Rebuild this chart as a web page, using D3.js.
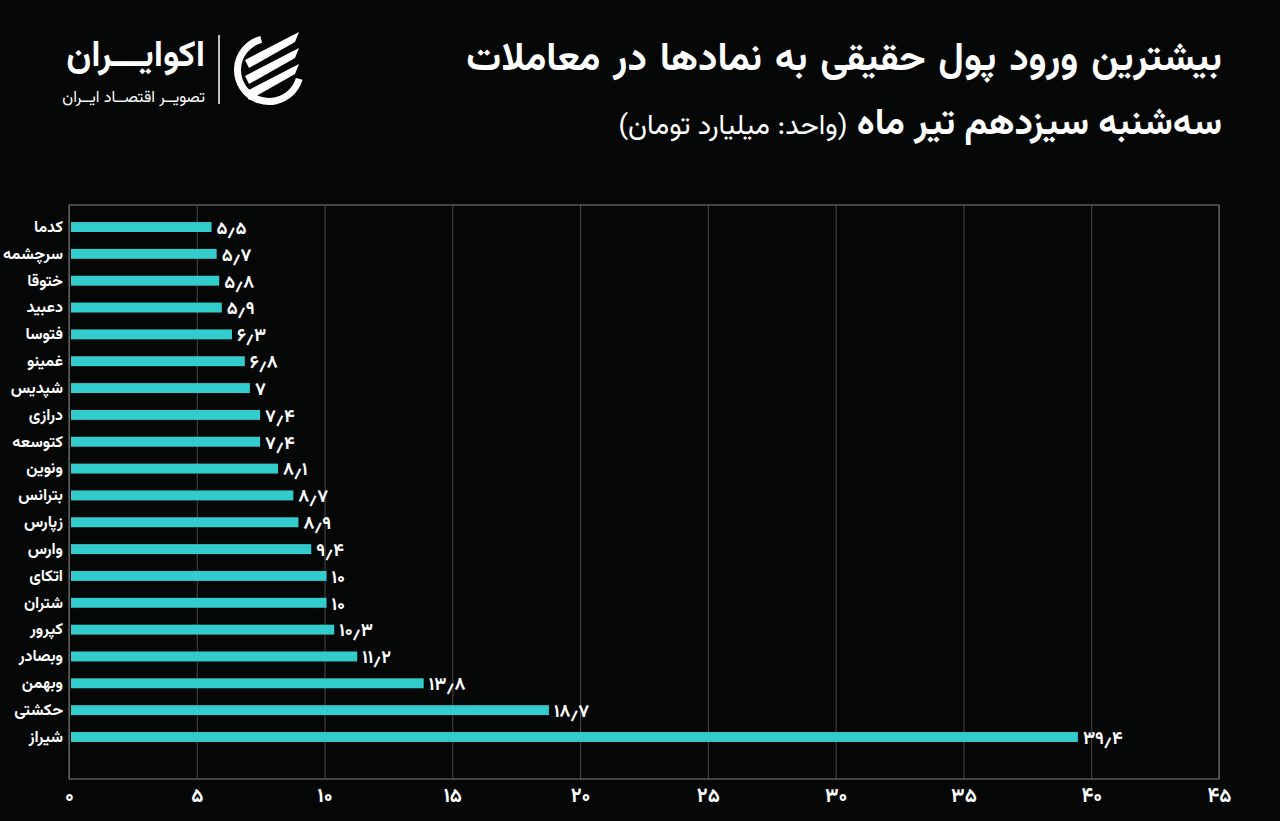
<!DOCTYPE html>
<html>
<head>
<meta charset="utf-8">
<script src="https://cdn.jsdelivr.net/npm/d3@7"></script>
<style>
  html, body { margin: 0; padding: 0; background: #050707; }
  svg { display: block; }
  text { font-family: Vazirmatn, "DejaVu Sans", sans-serif; }
</style>
</head>
<body>
<svg id="chart" width="1280" height="821"></svg>
<script>
const categories = ["کدما","سرچشمه","ختوقا","دعبید","فتوسا","غمینو","شپدیس","درازی","کتوسعه","ونوین","بترانس","زپارس","وارس","اتکای","شتران","کپرور","وبصادر","وبهمن","حکشتی","شیراز"];
const values = [5.5,5.7,5.8,5.9,6.3,6.8,7,7.4,7.4,8.1,8.7,8.9,9.4,10,10,10.3,11.2,13.8,18.7,39.4];
const xTicks = [0,5,10,15,20,25,30,35,40,45];
const titleText = "بیشترین ورود پول حقیقی به نمادها در معاملات";
const subtitleBold = "سه‌شنبه سیزدهم تیر ماه ";
const subtitleUnit = "(واحد: میلیارد تومان)";
const logoName = "اکوایـــران";
const logoTag = "تصویــر اقتصــاد ایــران";

const fa = s => String(s).replace(/\d/g, d => "۰۱۲۳۴۵۶۷۸۹"[d]).replace(".", "٫");

const svg = d3.select("#chart");
svg.append("rect").attr("width",1280).attr("height",821).attr("fill","#050707");

const plot = {left: 69, right: 1219, top: 205, bottom: 779};
const x = d3.scaleLinear().domain([0,45]).range([plot.left, plot.right]);
const y = d3.scaleBand().domain(categories).range([213.6, 750.4]).paddingInner(0.63).paddingOuter(0.315);

// grid
const grid = svg.append("g").attr("transform", `translate(0,${plot.bottom})`)
  .call(d3.axisBottom(x).tickValues(xTicks).tickSize(-(plot.bottom-plot.top)).tickFormat(""));
grid.select(".domain").remove();
grid.selectAll("line").attr("stroke","#4a4a4a").attr("stroke-width",1);

// frame
svg.append("rect").attr("x",plot.left).attr("y",plot.top)
  .attr("width",plot.right-plot.left).attr("height",plot.bottom-plot.top)
  .attr("fill","none").attr("stroke","#6a6a6a").attr("stroke-width",1.2);

// bars
svg.append("g").selectAll("rect").data(values).join("rect")
  .attr("x", x(0)+2)
  .attr("y", (d,i) => y(categories[i]))
  .attr("width", d => x(d)-x(0))
  .attr("height", y.bandwidth())
  .attr("fill","#33CCCC");

// value labels
svg.append("g").selectAll("text").data(values).join("text")
  .attr("x", d => x(d)+7)
  .attr("y", (d,i) => y(categories[i]) + y.bandwidth()/2)
  .attr("dy","0.38em")
  .attr("fill","#fff").attr("font-size",18).attr("font-weight","bold")
  .text(d => fa(d));

// category labels
svg.append("g").selectAll("text").data(categories).join("text")
  .attr("x", 63)
  .attr("y", d => y(d) + y.bandwidth()/2)
  .attr("dy","0.3em")
  .attr("text-anchor","end")
  .attr("fill","#fff").attr("font-size",16).attr("font-weight","bold")
  .text(d => d);

// x axis labels
const ax = svg.append("g").attr("transform", `translate(0,${plot.bottom})`)
  .call(d3.axisBottom(x).tickValues(xTicks).tickSize(0).tickPadding(9).tickFormat(fa));
ax.select(".domain").remove();
ax.selectAll("text").attr("fill","#fff").attr("font-size",20).attr("font-weight","bold")
  .style("font-family",'Vazirmatn, "DejaVu Sans", sans-serif');

// titles
svg.append("text").attr("x",1222).attr("y",70)
  .attr("direction","rtl").attr("text-anchor","start")
  .attr("fill","#fff").attr("font-size",39).attr("font-weight","bold")
  .attr("word-spacing", 3)
  .text(titleText);
const sub = svg.append("text").attr("x",1222).attr("y",134)
  .attr("direction","rtl").attr("text-anchor","start").attr("fill","#fff");
sub.append("tspan").attr("font-size",37).attr("font-weight","bold").text(subtitleBold);
sub.append("tspan").attr("font-size",28).attr("font-weight","normal").text(subtitleUnit);

// logo
svg.append("text").attr("x",205).attr("y",66)
  .attr("direction","rtl").attr("text-anchor","start")
  .attr("fill","#fff").attr("font-size",36).attr("font-weight","bold").text(logoName);
svg.append("text").attr("x",205).attr("y",102)
  .attr("direction","rtl").attr("text-anchor","start")
  .attr("fill","#fff").attr("font-size",16).text(logoTag);
svg.append("line").attr("x1",219).attr("x2",219).attr("y1",35).attr("y2",104)
  .attr("stroke","#fff").attr("stroke-width",1.5);
const logo = svg.append("g").attr("transform","translate(269,70)");
const arc = d3.arc().innerRadius(28).outerRadius(35);
logo.append("path").attr("d", arc({startAngle: -1.2*Math.PI/2 - 0.9, endAngle: -0.25})).attr("fill","#fff");
logo.append("path").attr("d", arc({startAngle: 0.8*Math.PI/2 + 0.6, endAngle: Math.PI+0.85})).attr("fill","#fff");
[-16, 0, 16].forEach(o => {
  logo.append("path")
    .attr("d", `M${-24} ${o+6} L${30} ${o-22} L${26} ${o-12} L${-20} ${o+14} Z`)
    .attr("fill","#fff");
});
</script>
</body>
</html>
